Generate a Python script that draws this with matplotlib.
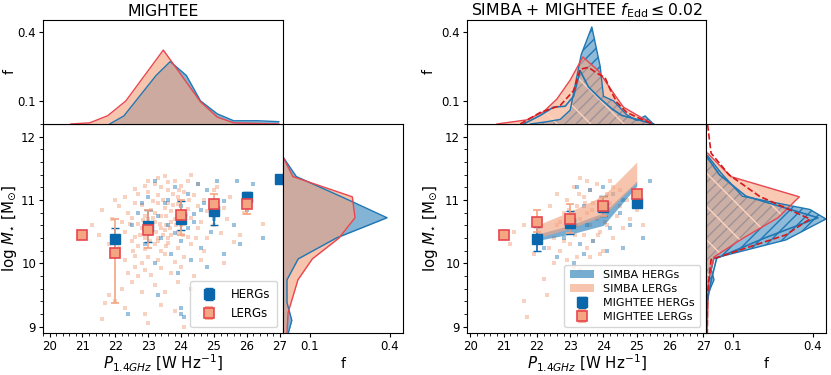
import matplotlib
matplotlib.use('Agg')
import matplotlib.pyplot as plt
from matplotlib.ticker import AutoMinorLocator, FixedLocator, NullFormatter
import numpy as np

# ---- data ----
# MIGHTEE binned medians (left panel)
p_bins_herg_l = [22, 23, 24, 25, 26, 27]
m_herg_l = [10.38, 10.59, 10.70, 10.82, 11.04, 11.33]
m_herg_l_lo = [0.18, 0.25, 0.18, 0.22, 0.08, 0.0]
m_herg_l_hi = [0.18, 0.26, 0.28, 0.12, 0.08, 0.0]
p_bins_lerg_l = [21, 22, 23, 24, 25, 26]
m_lerg_l = [10.44, 10.16, 10.52, 10.77, 10.93, 10.93]
m_lerg_l_lo = [0.0, 0.78, 0.27, 0.32, 0.17, 0.15]
m_lerg_l_hi = [0.0, 0.54, 0.32, 0.23, 0.17, 0.12]

# MIGHTEE f_Edd <= 0.02 medians (right panel)
p_bins_herg_r = [22, 23, 24, 25]
m_herg_r = [10.38, 10.64, 10.89, 10.96]
m_herg_r_lo = [0.18, 0.18, 0.15, 0.0]
m_herg_r_hi = [0.19, 0.18, 0.18, 0.0]
p_bins_lerg_r = [21, 22, 23, 24, 25]
m_lerg_r = [10.44, 10.66, 10.70, 10.91, 11.10]
m_lerg_r_lo = [0.0, 0.16, 0.22, 0.16, 0.0]
m_lerg_r_hi = [0.0, 0.18, 0.23, 0.14, 0.0]

# SIMBA bands (right panel)
p_simba = [22, 23, 24, 25]
simba_herg_lo = [10.36, 10.46, 10.60, 11.22]
simba_herg_hi = [10.46, 10.60, 10.80, 11.30]
simba_lerg_lo = [10.40, 10.55, 10.75, 11.28]
simba_lerg_hi = [10.60, 10.82, 11.07, 11.60]

# individual MIGHTEE sources (approximate positions)
lerg_pts_l = [
    (23.5, 11.38), (23.3, 11.35), (24.3, 11.4), (23.8, 11.3), (23.0, 11.3),
    (22.9, 11.22), (23.2, 11.25), (23.6, 11.28), (24.0, 11.22), (24.5, 11.25),
    (24.2, 11.3), (23.4, 11.2), (22.6, 11.18), (25.1, 11.2),
    (22.3, 11.05), (22.7, 11.1), (23.0, 11.12), (23.3, 11.08), (23.6, 11.15),
    (23.9, 11.05), (24.1, 11.12), (24.4, 11.08), (24.7, 11.0), (25.0, 11.15),
    (25.5, 11.05), (22.0, 11.0), (23.45, 11.0), (23.75, 11.1), (24.25, 11.0),
    (21.6, 10.85), (22.1, 10.9), (22.4, 10.8), (22.8, 10.92), (23.1, 10.85),
    (23.3, 10.95), (23.5, 10.88), (23.7, 10.82), (23.9, 10.93), (24.2, 10.86),
    (24.5, 10.9), (24.8, 10.82), (25.3, 10.88), (25.9, 10.8), (22.6, 10.95),
    (23.2, 10.8), (23.6, 10.95), (24.0, 10.8),
    (21.3, 10.6), (21.9, 10.7), (22.2, 10.65), (22.5, 10.72), (22.7, 10.62),
    (23.0, 10.7), (23.2, 10.65), (23.4, 10.75), (23.55, 10.6), (23.8, 10.7),
    (24.1, 10.62), (24.3, 10.72), (24.6, 10.66), (25.0, 10.6), (25.4, 10.7),
    (26.5, 10.62), (23.7, 10.65), (22.9, 10.75), (24.0, 10.6),
    (21.5, 10.45), (22.3, 10.5), (22.6, 10.42), (22.8, 10.55), (23.1, 10.47),
    (23.3, 10.4), (23.5, 10.52), (23.7, 10.45), (23.9, 10.5), (24.2, 10.42),
    (24.5, 10.55), (24.8, 10.4), (25.2, 10.48), (25.8, 10.45), (23.4, 10.55),
    (23.6, 10.4), (22.9, 10.4),
    (21.8, 10.3), (22.1, 10.25), (22.5, 10.35), (22.9, 10.22), (23.2, 10.3),
    (23.4, 10.2), (23.6, 10.32), (23.9, 10.25), (24.3, 10.3), (24.7, 10.2),
    (25.6, 10.33), (22.7, 10.28), (23.3, 10.35),
    (22.3, 10.05), (22.6, 10.12), (22.8, 10.0), (23.0, 10.1), (23.3, 10.05),
    (23.5, 10.15), (23.8, 10.02), (24.1, 10.1), (24.6, 10.05), (25.3, 10.0),
    (22.0, 10.1),
    (22.4, 9.85), (22.7, 9.8), (22.9, 9.9), (23.1, 9.82), (23.4, 9.92),
    (23.7, 9.85), (24.0, 9.95), (24.4, 9.8), (22.6, 9.95),
    (21.8, 9.5), (22.2, 9.6), (22.5, 9.7), (22.8, 9.55), (23.2, 9.65),
    (23.5, 9.55), (23.9, 9.7), (24.3, 9.6), (22.0, 9.4), (21.7, 9.38),
    (21.6, 9.12), (22.3, 9.3), (22.9, 9.2), (23.4, 9.35), (23.8, 9.25),
    (24.1, 9.0), (23.0, 9.05),
    (22.45, 10.62), (22.95, 10.58), (23.15, 10.72), (23.35, 10.62), (23.45, 10.45),
    (23.65, 10.55), (23.85, 10.6), (24.05, 10.45), (23.25, 10.5), (22.85, 10.68),
    (23.55, 10.75), (23.75, 10.92), (23.15, 10.98), (22.75, 10.45), (24.15, 10.78),
    (23.05, 10.35), (23.55, 10.28), (22.55, 10.2), (24.45, 10.4), (23.95, 11.15),
]
herg_pts_l = [
    (23.2, 11.3), (23.8, 11.2), (24.5, 11.25), (25.1, 11.3), (25.7, 11.3),
    (26.2, 11.25), (24.2, 11.1), (23.0, 11.05), (24.8, 11.15), (25.3, 10.98),
    (23.5, 10.95), (24.0, 10.9), (24.6, 10.85), (22.7, 10.8), (23.3, 10.75),
    (23.9, 10.7), (24.4, 10.78), (25.0, 10.7), (25.6, 10.6), (26.0, 10.85),
    (22.5, 10.6), (23.1, 10.55), (23.6, 10.6), (24.2, 10.55), (24.9, 10.5),
    (23.4, 10.4), (24.0, 10.35), (22.9, 10.3), (24.6, 10.25), (25.8, 10.3),
    (23.7, 10.15), (24.3, 10.05), (23.2, 10.0), (24.8, 9.95), (23.9, 9.85),
    (24.0, 9.2), (24.1, 9.15), (22.4, 9.2), (24.0, 9.3), (23.3, 9.5),
    (25.3, 10.15), (23.6, 11.0), (24.7, 10.95), (22.8, 10.95), (23.8, 10.48),
    (24.4, 10.65), (26.5, 10.4),
]
lerg_pts_r = [
    (21.2, 10.3), (21.3, 10.5), (21.6, 10.6), (21.7, 9.15), (21.6, 9.4),
    (22.2, 9.75), (22.3, 9.5), (22.0, 10.7), (22.4, 10.9), (22.5, 10.4),
    (22.6, 10.6), (22.7, 10.2), (22.8, 10.8), (22.9, 11.0), (23.0, 10.3),
    (23.0, 10.55), (23.1, 11.2), (23.2, 10.9), (23.2, 10.1), (23.3, 11.35),
    (23.3, 10.7), (23.4, 10.45), (23.4, 11.05), (23.5, 10.25), (23.5, 10.8),
    (23.6, 11.15), (23.6, 10.6), (23.7, 10.95), (23.7, 10.35), (23.8, 11.25),
    (23.8, 10.7), (23.9, 10.5), (23.9, 11.0), (24.0, 10.85), (24.0, 10.2),
    (24.1, 11.1), (24.1, 10.6), (24.2, 10.95), (24.3, 10.4), (24.3, 11.2),
    (24.4, 10.75), (24.5, 10.9), (24.6, 10.55), (24.7, 11.0), (24.8, 10.7),
    (25.0, 10.85), (25.2, 10.6), (22.9, 10.05), (23.1, 9.95), (23.3, 9.9),
    (22.5, 10.0), (23.6, 10.1), (22.8, 10.35), (23.2, 10.6), (23.5, 11.3),
    (24.2, 11.3), (22.6, 11.1), (23.9, 10.15), (24.5, 11.15), (22.1, 10.45),
    (22.7, 10.65), (22.95, 10.85), (23.15, 10.45), (23.25, 11.1), (23.45, 10.95),
    (23.65, 10.85), (23.85, 10.45), (24.05, 10.65), (22.35, 10.25), (21.9, 10.15),
]
herg_pts_r = [
    (23.2, 11.2), (23.6, 11.15), (24.0, 11.2), (24.3, 11.1), (24.6, 11.0),
    (25.4, 11.3), (23.4, 10.9), (23.9, 10.95), (24.5, 10.8), (25.1, 10.95),
    (23.0, 10.7), (23.5, 10.6), (24.2, 10.55), (24.8, 10.6), (22.8, 10.4),
    (23.3, 10.3), (23.7, 10.35), (24.1, 10.2), (22.6, 10.1), (23.1, 10.0),
    (23.4, 10.15), (22.2, 10.25), (25.2, 10.4), (24.6, 10.25),
]

# marginal distributions, left panel
hp_p_herg = [21.83, 22.26, 23.24, 23.67, 24.16, 24.59, 25.1, 25.6, 26.33, 26.97]
hp_f_herg = [0.0, 0.035, 0.21, 0.27, 0.21, 0.10, 0.044, 0.014, 0.014, 0.01]
hp_p_lerg = [20.64, 21.22, 21.77, 22.32, 23.46, 24.59, 25.1, 25.6, 26.97]
hp_f_lerg = [0.0, 0.005, 0.036, 0.10, 0.32, 0.096, 0.03, 0.005, 0.0]
hm_m_herg = [11.68, 11.37, 11.05, 10.72, 10.40, 10.07, 9.74, 9.38, 9.1, 8.9]
hm_f_herg = [0.0, 0.05, 0.22, 0.39, 0.20, 0.057, 0.015, 0.015, 0.033, 0.02]
hm_m_lerg = [11.68, 11.37, 11.05, 10.72, 10.40, 10.07, 9.74, 9.22, 8.9]
hm_f_lerg = [0.0, 0.037, 0.26, 0.27, 0.21, 0.11, 0.056, 0.019, 0.015]

# marginal distributions, right panel
sp_p_lerg = [20.8, 21.7, 22.2, 22.6, 23.0, 23.38, 23.85, 24.25, 24.6, 25.1, 25.5]
sp_f_lerg = [0.0, 0.018, 0.053, 0.108, 0.19, 0.29, 0.23, 0.144, 0.073, 0.031, 0.0]
sp_p_herg = [21.8, 22.3, 22.7, 23.0, 23.33, 23.65, 23.9, 24.0, 24.3, 24.7, 25.0, 25.25, 25.5]
sp_f_herg = [0.0, 0.01, 0.02, 0.06, 0.30, 0.42, 0.25, 0.12, 0.10, 0.04, 0.015, 0.035, 0.0]
mp_p_lerg = [21.5, 22.1, 22.7, 23.1, 23.3, 23.55, 23.8, 24.05, 24.2, 24.4, 24.7, 25.1, 25.5]
mp_f_lerg = [0.0, 0.05, 0.08, 0.144, 0.237, 0.245, 0.22, 0.20, 0.15, 0.094, 0.05, 0.023, 0.0]
mp_p_herg = [21.6, 22.1, 22.5, 22.85, 23.1, 23.3, 23.55, 23.9, 24.25, 24.55, 25.0, 25.5]
mp_f_herg = [0.0, 0.037, 0.073, 0.077, 0.12, 0.23, 0.16, 0.11, 0.066, 0.037, 0.02, 0.0]

sm_m_lerg = [11.74, 11.37, 11.05, 10.72, 10.40, 10.10, 9.74, 9.0, 8.9]
sm_f_lerg = [0.006, 0.093, 0.35, 0.27, 0.14, 0.03, 0.01, 0.005, 0.005]
sm_m_herg = [11.7, 11.43, 11.06, 10.85, 10.70, 10.37, 10.08, 9.9, 9.74, 9.5, 8.9]
sm_f_herg = [0.006, 0.056, 0.136, 0.39, 0.45, 0.30, 0.03, 0.02, 0.03, 0.006, 0.0]
mm_m_lerg = [12.19, 11.74, 11.4, 11.06, 10.70, 10.45, 10.06, 9.5, 8.9]
mm_f_lerg = [0.006, 0.019, 0.086, 0.20, 0.39, 0.30, 0.019, 0.005, 0.005]
mm_m_herg = [11.7, 11.4, 11.06, 10.72, 10.40, 10.08, 9.74, 9.4, 8.9]
mm_f_herg = [0.0, 0.05, 0.15, 0.42, 0.22, 0.04, 0.02, 0.005, 0.0]

# ---- styles ----
BLUE = '#1f77b4'
DBLUE = '#0b67ab'
SALMON = '#f4a582'
RED = '#e8474f'
DRED = '#d7191c'
TICK_FS = 8.5
LABEL_FS = 10.8

W, H = 831, 375
fig = plt.figure(figsize=(W / 100, H / 100), dpi=100)


def box(x0, y0, x1, y1):
    return fig.add_axes([x0 / W, 1 - y1 / H, (x1 - x0) / W, (y1 - y0) / H])


def ticks(ax):
    ax.tick_params(which='major', length=3, pad=2, labelsize=TICK_FS)
    ax.tick_params(which='minor', length=2)


def style_main(ax, xlim, ylab_x):
    ax.set_xlim(*xlim)
    ax.set_ylim(8.9, 12.2)
    ax.set_xticks(range(20, 28))
    ax.set_yticks([9, 10, 11, 12])
    ax.xaxis.set_minor_locator(AutoMinorLocator(5))
    ax.yaxis.set_minor_locator(AutoMinorLocator(5))
    ticks(ax)
    ax.set_xlabel(r'$P_{1.4GHz}$ [W Hz$^{-1}$]', fontsize=LABEL_FS, labelpad=0)
    ax.set_ylabel(r'log $M_{\star}$ [M$_{\odot}$]', fontsize=LABEL_FS)
    ax.yaxis.set_label_coords(ylab_x, 0.5)


def style_top(ax, xlim, ylab_x):
    ax.set_xlim(*xlim)
    ax.set_ylim(0, 0.45)
    ax.yaxis.set_major_locator(FixedLocator([0.1, 0.4]))
    ax.xaxis.set_major_formatter(NullFormatter())
    ticks(ax)
    ax.tick_params(axis='x', length=0)
    ax.set_ylabel('f', fontsize=10)
    ax.yaxis.set_label_coords(ylab_x, 0.5)


def style_right(ax):
    ax.set_ylim(8.9, 12.2)
    ax.set_xlim(0, 0.45)
    ax.xaxis.set_major_locator(FixedLocator([0.1, 0.4]))
    ax.yaxis.set_major_formatter(NullFormatter())
    ticks(ax)
    ax.tick_params(axis='y', length=0)
    ax.set_xlabel('f', fontsize=10, labelpad=3)


def errs(lo, hi):
    return [lo, hi]


# ================= left panel =================
ax_m = box(43, 124, 283, 333)
ax_t = box(43, 20, 283, 124)
ax_r = box(283, 124, 403, 333)

lp = np.array(lerg_pts_l)
hp = np.array(herg_pts_l)
ax_m.scatter(lp[:, 0], lp[:, 1], s=5, marker='s', color=SALMON, alpha=0.5, lw=0)
ax_m.scatter(hp[:, 0], hp[:, 1], s=5, marker='s', color=BLUE, alpha=0.45, lw=0)
ax_m.errorbar(p_bins_herg_l, m_herg_l, yerr=errs(m_herg_l_lo, m_herg_l_hi), fmt='s',
              color=DBLUE, ms=7, capsize=3, elinewidth=1.2, label='HERGs')
ax_m.errorbar(p_bins_lerg_l, m_lerg_l, yerr=errs(m_lerg_l_lo, m_lerg_l_hi), fmt='s',
              mfc=SALMON, mec=RED, mew=1.2, ecolor=SALMON, ms=7, capsize=3,
              elinewidth=1.2, label='LERGs')
style_main(ax_m, (19.8, 27.1), -0.1)
ax_m.legend(loc='lower right', fontsize=8.5, handletextpad=0.8, borderpad=0.6,
            labelspacing=0.5)

ax_t.fill_between(hp_p_herg, hp_f_herg, color=BLUE, alpha=0.55, lw=0)
ax_t.plot(hp_p_herg, hp_f_herg, color=BLUE, lw=1)
ax_t.fill_between(hp_p_lerg, hp_f_lerg, color=SALMON, alpha=0.65, lw=0)
ax_t.plot(hp_p_lerg, hp_f_lerg, color=RED, lw=1)
style_top(ax_t, (19.8, 27.1), -0.11)
ax_t.set_title('MIGHTEE', fontsize=11.3, pad=3)

ax_r.fill_betweenx(hm_m_herg, hm_f_herg, color=BLUE, alpha=0.55, lw=0)
ax_r.plot(hm_f_herg, hm_m_herg, color=BLUE, lw=1)
ax_r.fill_betweenx(hm_m_lerg, hm_f_lerg, color=SALMON, alpha=0.65, lw=0)
ax_r.plot(hm_f_lerg, hm_m_lerg, color=RED, lw=1)
style_right(ax_r)

# ================= right panel =================
bx_m = box(467, 124, 706, 333)
bx_t = box(467, 20, 706, 124)
bx_r = box(706, 124, 826, 333)

lp = np.array(lerg_pts_r)
hp = np.array(herg_pts_r)
bx_m.scatter(lp[:, 0], lp[:, 1], s=5, marker='s', color=SALMON, alpha=0.5, lw=0)
bx_m.scatter(hp[:, 0], hp[:, 1], s=5, marker='s', color=BLUE, alpha=0.45, lw=0)
bx_m.fill_between(p_simba, simba_herg_lo, simba_herg_hi, color=BLUE, alpha=0.6, lw=0,
                  label='SIMBA HERGs')
bx_m.fill_between(p_simba, simba_lerg_lo, simba_lerg_hi, color=SALMON, alpha=0.65, lw=0,
                  label='SIMBA LERGs')
bx_m.errorbar(p_bins_herg_r, m_herg_r, yerr=errs(m_herg_r_lo, m_herg_r_hi), fmt='s',
              color=DBLUE, ms=7, capsize=3, elinewidth=1.2, label='MIGHTEE HERGs')
bx_m.errorbar(p_bins_lerg_r, m_lerg_r, yerr=errs(m_lerg_r_lo, m_lerg_r_hi), fmt='s',
              mfc=SALMON, mec=RED, mew=1.2, ecolor=SALMON, ms=7, capsize=3,
              elinewidth=1.2, label='MIGHTEE LERGs')
style_main(bx_m, (19.9, 27.08), -0.115)
bx_m.legend(loc='lower right', fontsize=8, handletextpad=0.8, borderpad=0.5,
            labelspacing=0.35, handlelength=2.2)

# SIMBA histograms (filled + hatched), MIGHTEE as lines
bx_t.fill_between(sp_p_herg, sp_f_herg, facecolor=(0.12, 0.47, 0.71, 0.5),
                  edgecolor=BLUE, hatch='///', lw=0)
bx_t.plot(sp_p_herg, sp_f_herg, color=BLUE, lw=1)
bx_t.fill_between(sp_p_lerg, sp_f_lerg, facecolor=(0.96, 0.65, 0.51, 0.6),
                  edgecolor='#fbd5c0', hatch='\\', lw=0)
bx_t.plot(sp_p_lerg, sp_f_lerg, color=RED, lw=1)
bx_t.plot(mp_p_herg, mp_f_herg, color=BLUE, lw=1.2)
bx_t.plot(mp_p_lerg, mp_f_lerg, color=DRED, lw=1.2, ls='--')
style_top(bx_t, (19.9, 27.08), -0.13)
bx_t.set_title(r'SIMBA + MIGHTEE $f_{\rm Edd} \leq 0.02$', fontsize=11.3, pad=3)

bx_r.fill_betweenx(sm_m_herg, sm_f_herg, facecolor=(0.12, 0.47, 0.71, 0.5),
                   edgecolor=BLUE, hatch='///', lw=0)
bx_r.plot(sm_f_herg, sm_m_herg, color=BLUE, lw=1)
bx_r.fill_betweenx(sm_m_lerg, sm_f_lerg, facecolor=(0.96, 0.65, 0.51, 0.6),
                   edgecolor='#fbd5c0', hatch='\\', lw=0)
bx_r.plot(sm_f_lerg, sm_m_lerg, color=RED, lw=1)
bx_r.plot(mm_f_herg, mm_m_herg, color=BLUE, lw=1.2)
bx_r.plot(mm_f_lerg, mm_m_lerg, color=DRED, lw=1.2, ls='--')
style_right(bx_r)

fig.savefig('out.png', dpi=100)
